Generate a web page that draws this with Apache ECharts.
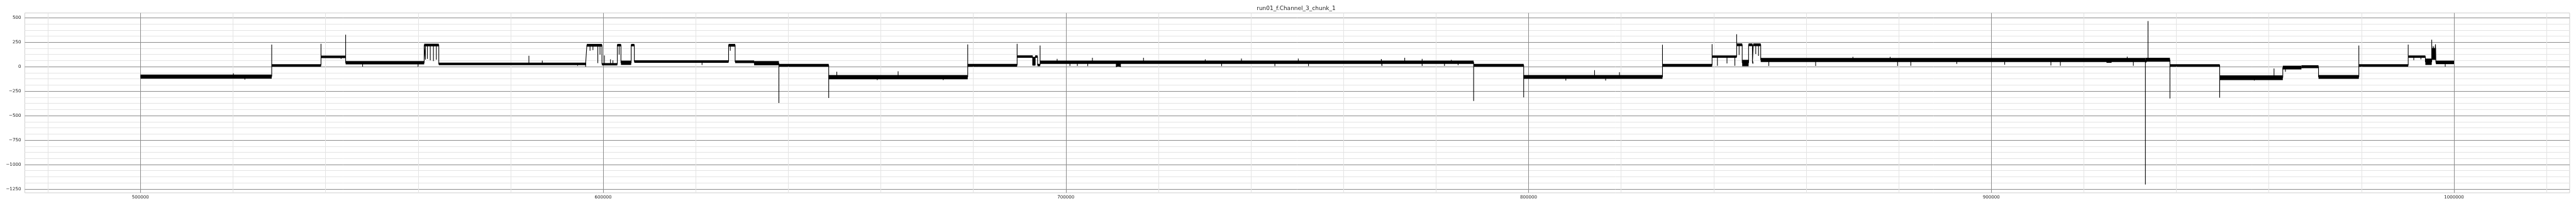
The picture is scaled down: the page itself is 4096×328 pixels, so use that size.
<!DOCTYPE html>
<html>
<head>
<meta charset="utf-8">
<script src="https://cdn.jsdelivr.net/npm/echarts@6/dist/echarts.min.js"></script>
<style>
html,body{margin:0;padding:0;background:#fff;}
#chart{width:4096px;height:328px;}
</style>
</head>
<body>
<div id="chart"></div>
<script>
const chartTitle = 'run01_f.Channel_3_chunk_1';
const yTicks = [-1250, -1000, -750, -500, -250, 0, 250, 500];
const xTicks = [500000, 600000, 700000, 800000, 900000, 1000000];

// noise bands: [xStart, xEnd, low, high]
const bands = [
  [500000, 528365, -122, -80],
  [528365, 539017, 2, 26],
  [539017, 544343, 88, 113],
  [544343, 561316, 24, 58],
  [561316, 564474, 208, 235],
  [564474, 596316, 16, 42],
  [596474, 599737, 205, 233],
  [599737, 603053, 13, 37],
  [603053, 603842, 208, 233],
  [603842, 606052, 18, 62],
  [606052, 606737, 208, 233],
  [606737, 627104, 40, 66],
  [627104, 628525, 205, 233],
  [628525, 632630, 37, 64],
  [632630, 637978, 14, 58],
  [637978, 648745, 2, 29],
  [648745, 678789, -129, -85],
  [678789, 689464, 2, 29],
  [689464, 692822, 91, 116],
  [692822, 693374, 15, 100],
  [693374, 693880, 91, 116],
  [693880, 694433, 5, 29],
  [694433, 788130, 28, 63],
  [710900, 711800, 2, 40],
  [788130, 798942, 2, 29],
  [798942, 828940, -124, -85],
  [828940, 839660, 2, 29],
  [839660, 844972, 91, 116],
  [844972, 846168, 210, 238],
  [846168, 847549, 5, 70],
  [847549, 848377, 210, 238],
  [848377, 848561, 30, 55],
  [848561, 850171, 210, 238],
  [850171, 933308, 48, 90],
  [924900, 926000, 40, 80],
  [933308, 938612, 51, 91],
  [938612, 949363, 2, 26],
  [949363, 963003, -137, -88],
  [963003, 967029, -28, 10],
  [967029, 970723, -15, 15],
  [970723, 979437, -124, -85],
  [979437, 990104, 2, 26],
  [990104, 993815, 91, 115],
  [993815, 995190, 18, 83],
  [995190, 996083, 70, 190],
  [996083, 1000000, 26, 62]
];

// signal trace with transitions and spikes: [x, value]
const trace = [
  [500000,-100],[520080,-100],[520080,-67],[520080,-100],[522565,-100],[522565,-132],[522565,-100],
  [528365,-100],[528365,226],[528365,14],[539017,14],[539017,234],[539017,100],
  [543356,100],[543356,80],[543356,100],[544343,100],[544343,327],[544343,40],
  [548010,40],[548010,2],[548010,40],[560000,40],[560000,0],[560000,40],
  [561316,40],[561316,222],[561580,222],[561580,72],[561580,222],[562000,222],[562000,80],[562000,222],
  [562633,222],[562633,66],[562633,222],[563317,222],[563317,58],[563317,222],[563948,222],[563948,72],[563948,222],
  [564474,222],[564474,28],[583947,28],[583947,112],[583947,28],[586842,28],[586842,62],[586842,28],
  [594474,28],[594474,10],[594474,28],[596211,28],[596211,0],[596211,28],[596474,28],[596474,220],
  [597158,220],[597158,164],[597158,220],[597790,220],[597790,170],[597790,220],[598842,220],[598842,37],[598842,220],
  [599316,220],[599316,123],[599316,220],[599737,220],[599737,25],
  [600263,25],[600263,115],[600263,25],[601579,25],[601579,75],[601579,25],[602105,25],[602105,66],[602105,25],
  [603053,25],[603053,222],[603450,222],[603450,123],[603450,222],[603842,222],[603842,40],
  [606052,40],[606052,222],[606737,222],[606737,53],[621368,53],[621368,18],[621368,53],
  [627104,53],[627104,220],[627473,220],[627473,164],[627473,220],[628525,220],[628525,50],
  [632630,50],[632630,36],[637978,36],[637978,-371],[637978,15],[648745,15],[648745,-320],[648745,-105],
  [650493,-105],[650493,-52],[650493,-105],[659234,-105],[659234,-137],[659234,-105],
  [663744,-105],[663744,-47],[663744,-105],[673498,-105],[673498,-137],[673498,-105],
  [678789,-105],[678789,227],[678789,15],[689464,15],[689464,234],[689464,103],
  [692822,103],[692822,15],[693374,15],[693374,103],[693880,103],[693880,17],[694433,17],[694433,217],[694433,45],
  [698114,45],[698114,80],[698114,45],[700874,45],[700874,7],[700874,45],[702484,45],[702484,7],[702484,45],
  [704725,45],[704725,6],[704725,45],[705737,45],[705737,91],[705737,45],
  [710890,45],[710890,-2],[711350,20],[711810,-2],[711810,45],
  [716780,45],[716780,91],[716780,45],[730122,45],[730122,75],[730122,45],[733665,45],[733665,6],[733665,45],
  [737944,45],[737944,83],[737944,45],[745167,45],[745167,6],[745167,45],[750229,45],[750229,83],[750229,45],
  [752437,45],[752437,6],[752437,45],[768172,45],[768172,78],[768310,8],[768310,45],
  [773234,45],[773234,91],[773234,45],[776995,45],[776995,80],[776995,8],[776995,45],
  [781826,45],[781826,8],[781826,45],[783298,45],[783298,70],[783298,45],[784771,45],[784771,15],[784771,45],
  [788130,45],[788130,-350],[788130,15],[798942,15],[798942,-314],[798942,-105],
  [808052,-105],[808052,-141],[808052,-105],[814263,-105],[814263,-36],[814263,-105],
  [816656,-105],[816656,-141],[816656,-105],[819646,-105],[819646,-56],[819646,-105],
  [828940,-105],[828940,224],[828940,15],[839660,15],[839660,230],[839660,103],
  [840811,103],[840811,10],[840811,103],[842881,103],[842881,34],[842881,103],[844584,103],[844584,10],[844584,103],
  [844972,103],[844972,332],[844972,225],[845500,225],[845500,120],[845500,225],[846168,225],[846168,40],
  [847549,40],[847549,225],[848377,225],[848377,42],[848561,42],[848561,225],
  [849100,225],[849100,130],[849100,225],[849700,225],[849700,110],[849700,225],[850171,225],[850171,70],
  [851920,70],[851920,7],[851920,70],[862041,70],[862041,7],[862041,70],[870093,70],[870093,100],[870093,70],
  [878145,70],[878145,100],[878145,70],[879756,70],[879756,7],[879756,70],[882608,70],[882608,10],[882608,70],
  [892546,70],[892546,29],[892546,70],[902899,70],[902899,21],[902899,70],[912883,70],[912883,13],[912883,70],
  [914932,70],[914932,10],[914932,70],[929377,70],[929377,103],[929377,70],[930703,70],[930703,10],[930703,70],
  [933308,70],[933308,-1204],[933308,40],[933876,70],[933876,466],[933876,70],
  [938612,70],[938612,-325],[938612,15],[949363,15],[949363,-317],[949363,-110],
  [956846,-110],[956846,-141],[956846,-110],[961108,-110],[961108,-18],[961108,-110],
  [963003,-110],[963003,-10],[963572,-10],[963572,-52],[963572,-10],[967029,-10],[967029,0],
  [970723,0],[970723,-105],[979437,-105],[979437,217],[979437,14],[990104,14],[990104,226],[990104,103],
  [991307,103],[991307,67],[991307,103],[992853,103],[992853,75],[992853,103],[993815,103],[993815,50],
  [995190,50],[995190,275],[995190,80],[995500,80],[995500,210],[995800,120],[996000,229],[996083,229],[996083,44],
  [998110,44],[998110,2],[998110,44],[1000000,44]
];

const S = 0.758;
const FONT = 'DejaVu Sans';
const majorColor = '#8c8c8c';
const minorColor = '#e4e4e4';
const edgeColor = '#cfcfcf';
const textColor = '#262626';

const fmtY = v => (v < 0 ? '\u2212' + Math.abs(v) : String(v));

const chart = echarts.init(document.getElementById('chart'), null, {renderer: 'canvas'});
chart.setOption({
  animation: false,
  backgroundColor: '#ffffff',
  graphic: [{
    type: 'text', x: 2061, y: 14,
    style: {text: chartTitle, fill: textColor, font: '9px "DejaVu Sans"', textAlign: 'center', textVerticalAlign: 'middle'}
  }],
  grid: [
    {left: 52 * S, right: 13.3 * S, top: 27.3 * S, bottom: 27.7 * S, show: true, borderColor: edgeColor, borderWidth: 1, backgroundColor: 'transparent'},
    {left: 52 * S, right: 13.3 * S, top: 37.33 * S, bottom: 35.67 * S, show: false}
  ],
  xAxis: [{
    gridIndex: 0, type: 'value', min: 475000, max: 1025000, splitNumber: 5,
    axisLine: {show: false}, axisTick: {show: false},
    axisLabel: {show: true, showMinLabel: false, showMaxLabel: false, margin: 4, fontFamily: FONT, fontSize: 7.1, color: textColor,
      formatter: v => (xTicks.indexOf(v) >= 0 ? String(v) : '')},
    splitLine: {show: true, showMinLine: false, showMaxLine: false, lineStyle: {color: majorColor, width: 1}},
    minorTick: {show: false, splitNumber: 5},
    minorSplitLine: {show: true, lineStyle: {color: minorColor, width: 1}}
  }, {
    gridIndex: 1, type: 'value', min: 475000, max: 1025000, show: false
  }],
  yAxis: [{
    gridIndex: 0, type: 'value', min: -1287.5, max: 549.5, show: false
  }, {
    gridIndex: 1, type: 'value', min: yTicks[0], max: yTicks[yTicks.length - 1], interval: 250,
    axisLine: {show: false}, axisTick: {show: false},
    axisLabel: {show: true, margin: 6, fontFamily: FONT, fontSize: 7.1, color: textColor, formatter: fmtY},
    splitLine: {show: true, lineStyle: {color: majorColor, width: 1}},
    minorTick: {show: false, splitNumber: 4},
    minorSplitLine: {show: true, lineStyle: {color: minorColor, width: 1}}
  }],
  series: [{
    type: 'custom', xAxisIndex: 1, yAxisIndex: 1,
    data: bands,
    encode: {x: [0, 1], y: [2, 3]},
    renderItem: function (params, api) {
      const p0 = api.coord([api.value(0), api.value(3)]);
      const p1 = api.coord([api.value(1), api.value(2)]);
      return {
        type: 'rect',
        shape: {x: p0[0], y: p0[1], width: Math.max(p1[0] - p0[0], 1), height: Math.max(p1[1] - p0[1], 1)},
        style: {fill: '#000000'}
      };
    },
    z: 3
  }, {
    type: 'line', xAxisIndex: 1, yAxisIndex: 1,
    data: trace, symbol: 'none', showSymbol: false,
    lineStyle: {color: '#000000', width: 1.1},
    sampling: null, clip: true, z: 4
  }]
});
</script>
</body>
</html>
